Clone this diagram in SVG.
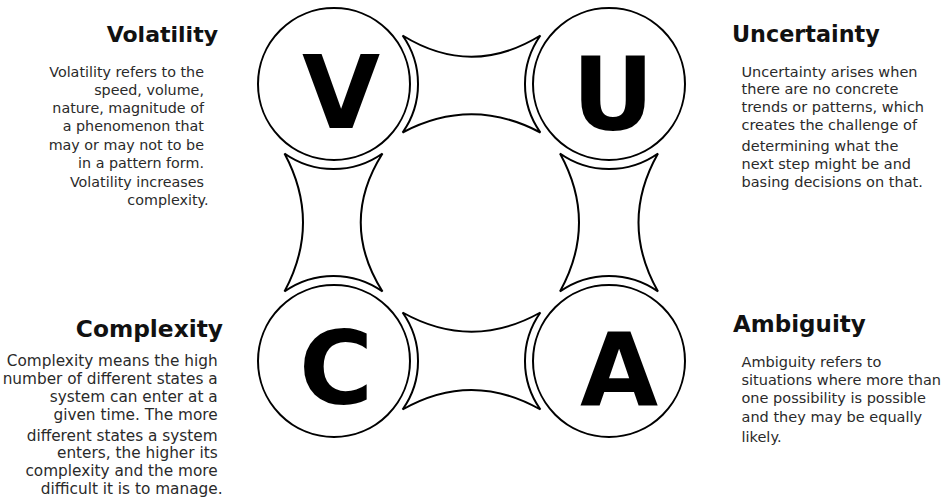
<svg xmlns="http://www.w3.org/2000/svg" width="948" height="499" viewBox="0 0 948 499">
<style>
.c{fill:#fff;stroke:#000;stroke-width:2}
.s{fill:#fff;stroke:#000;stroke-width:2;stroke-linejoin:miter}
.L{font-family:"DejaVu Sans",sans-serif;font-weight:bold;font-size:101px;fill:#000;text-anchor:middle}
.t{font-family:"DejaVu Sans",sans-serif;font-weight:bold;fill:#111}
.b{font-family:"DejaVu Sans",sans-serif;fill:#2a2a2a}
.r{text-anchor:end}
</style>
<rect width="948" height="499" fill="#fff"/>
<g id="connectors">
<path class="s" d="M402.6,35.5 Q471.5,77.9 540.4,35.5 A84,84 0 0 0 540.4,132.5 Q471.5,96.1 402.6,132.5 A84,84 0 0 0 402.6,35.5 Z"/>
<path class="s" d="M402.6,312.5 Q471.5,350.9 540.4,312.5 A84,84 0 0 0 540.4,409.5 Q471.5,370.5 402.6,409.5 A84,84 0 0 0 402.6,312.5 Z"/>
<path class="s" d="M284.5,153.5 A85,85 0 0 0 382.5,153.5 Q339,222.5 382.5,291.5 A85,85 0 0 0 284.5,291.5 Q321.5,222.5 284.5,153.5 Z"/>
<path class="s" d="M560,153.5 A85,85 0 0 0 658,153.5 Q619,222.5 658,291.5 A85,85 0 0 0 560,291.5 Q598,222.5 560,153.5 Z"/>
</g>
<g id="node-v">
<circle class="c" cx="334" cy="84" r="76"/>
<text class="L" x="341" y="128">V</text>
</g>
<g id="node-u">
<circle class="c" cx="609" cy="84" r="76"/>
<text class="L" x="613" y="129.5">U</text>
</g>
<g id="node-c">
<circle class="c" cx="334" cy="361" r="76"/>
<text class="L" x="336" y="404">C</text>
</g>
<g id="node-a">
<circle class="c" cx="609" cy="361" r="76"/>
<text class="L" x="619" y="406">A</text>
</g>
<g id="text-volatility">
<text class="t r" x="218" y="42" font-size="22">Volatility</text>
<text class="b r" font-size="14.3">
<tspan x="208.5" y="76.5">Volatility refers to the</tspan>
<tspan x="208.5" y="94.5">speed, volume,</tspan>
<tspan x="208.5" y="112.5">nature, magnitude of</tspan>
<tspan x="208.5" y="130.5">a phenomenon that</tspan>
<tspan x="208.5" y="150">may or may not to be</tspan>
<tspan x="208.5" y="168">in a pattern form.</tspan>
<tspan x="208.5" y="186.5">Volatility increases</tspan>
<tspan x="208.5" y="204.5">complexity.</tspan>
</text>
</g>
<g id="text-uncertainty">
<text class="t" x="732" y="42" font-size="22.3">Uncertainty</text>
<text class="b" font-size="14.5">
<tspan x="741.5" y="76.5">Uncertainty arises when</tspan>
<tspan x="741.5" y="94">there are no concrete</tspan>
<tspan x="741.5" y="112">trends or patterns, which</tspan>
<tspan x="741.5" y="130">creates the challenge of</tspan>
<tspan x="741.5" y="151">determining what the</tspan>
<tspan x="741.5" y="169">next step might be and</tspan>
<tspan x="741.5" y="187">basing decisions on that.</tspan>
</text>
</g>
<g id="text-complexity">
<text class="t r" x="223" y="336.5" font-size="23.3">Complexity</text>
<text class="b r" font-size="15.3">
<tspan x="222.5" y="366">Complexity means the high</tspan>
<tspan x="222.5" y="384">number of different states a</tspan>
<tspan x="222.5" y="402">system can enter at a</tspan>
<tspan x="222.5" y="419.5">given time. The more</tspan>
<tspan x="222.5" y="440.5">different states a system</tspan>
<tspan x="222.5" y="458.3">enters, the higher its</tspan>
<tspan x="222.5" y="476">complexity and the more</tspan>
<tspan x="222.5" y="494">difficult it is to manage.</tspan>
</text>
</g>
<g id="text-ambiguity">
<text class="t" x="733" y="331.5" font-size="23">Ambiguity</text>
<text class="b" font-size="14.5">
<tspan x="741.5" y="366.5">Ambiguity refers to</tspan>
<tspan x="741.5" y="385">situations where more than</tspan>
<tspan x="741.5" y="403">one possibility is possible</tspan>
<tspan x="741.5" y="421.5">and they may be equally</tspan>
<tspan x="741.5" y="441.5">likely.</tspan>
</text>
</g>
</svg>
